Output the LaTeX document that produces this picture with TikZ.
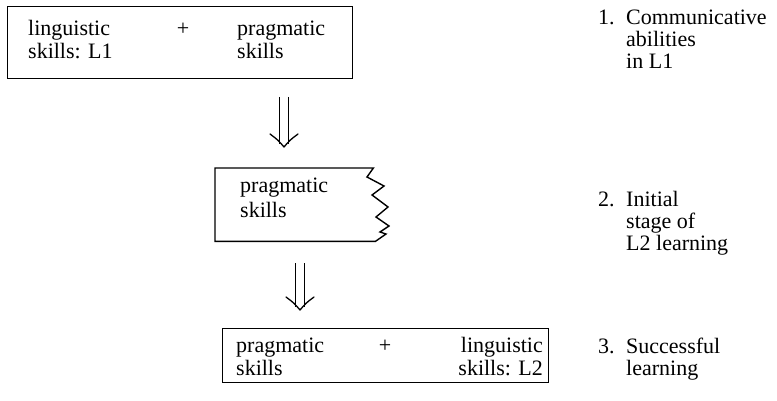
\documentclass[tikz,border=0pt]{standalone}
\usepackage{fontspec}
\setmainfont{Liberation Serif}
\newfontfamily\serifx{Liberation Serif}
\usetikzlibrary{calc}
\begin{document}
\begin{tikzpicture}[x=1pt,y=-1pt,
  txt/.style={inner sep=0pt, anchor=base west, font=\serifx\fontsize{22}{26}\selectfont},
  txtr/.style={txt, anchor=base east},
  txtc/.style={txt, anchor=base},
  boxline/.style={line width=1.4pt, line join=miter},
  frame/.style={boxline, draw, inner sep=0pt, anchor=north west},
  shaft/.style={line width=1.2pt},
  head/.style={line width=1.3pt, line cap=round, line join=round}]
\useasboundingbox (0,0) rectangle (777,401);

% box 1
\node[frame, minimum width=345pt, minimum height=72pt] (b1) at (7,6) {};
\node[txt] (b1a) at (28,36) {linguistic};
\node[txt] (b1b) at (28,59) {skills: L1};
\node[txtc] (b1p) at (183,36) {+};
\node[txt] (b1c) at (237,36) {pragmatic};
\node[txt] (b1d) at (237,59) {skills};

% box 2 (torn right edge)
\node[inner sep=0pt, anchor=north west, minimum width=158pt, minimum height=73pt] (b2) at (215,168) {};
\draw[boxline] (b2.north east) -- (b2.north west) -- (b2.south west) -- ($(b2.south east)+(2,0)$)
  -- (386,234) -- (380,232) -- (389,226) -- (376,217) -- (388,207) -- (372,195) -- (384,186) -- (367,177) -- cycle;
\node[txt] (b2a) at (240,193) {pragmatic};
\node[txt] (b2b) at (240,218) {skills};

% box 3
\node[frame, minimum width=326pt, minimum height=54pt] (b3) at (222,328) {};
\node[txt] (b3a) at (236,352) {pragmatic};
\node[txt] (b3b) at (236,375) {skills};
\node[txtc] (b3p) at (385,352) {+};
\node[txtr] (b3c) at (543,352) {linguistic};
\node[txtr] (b3d) at (543,375) {skills: L2};

% arrows
\coordinate (a1top) at (284,97);
\coordinate (a1tip) at (284,147);
\draw[shaft] ($(a1top)+(-4.5,0)$) -- ($(a1tip)+(-4.5,-3)$);
\draw[shaft] ($(a1top)+(4.5,0)$) -- ($(a1tip)+(4.5,-3)$);
\draw[head] ($(a1tip)+(-14,-13)$) .. controls ($(a1tip)+(-6,-7)$) .. (a1tip) .. controls ($(a1tip)+(6,-7)$) .. ($(a1tip)+(14,-13)$);

\coordinate (a2top) at (300,263);
\coordinate (a2tip) at (300,310);
\draw[shaft] ($(a2top)+(-4.5,0)$) -- ($(a2tip)+(-4.5,-3)$);
\draw[shaft] ($(a2top)+(4.5,0)$) -- ($(a2tip)+(4.5,-3)$);
\draw[head] ($(a2tip)+(-14,-13)$) .. controls ($(a2tip)+(-6,-7)$) .. (a2tip) .. controls ($(a2tip)+(6,-7)$) .. ($(a2tip)+(14,-13)$);

% right-hand labels
\node[txt] (n1) at (598,25) {1.};
\node[txt] (l1a) at (626,25) {Communicative};
\node[txt] (l1b) at (626,47) {abilities};
\node[txt] (l1c) at (626,69) {in L1};

\node[txt] (n2) at (598,207) {2.};
\node[txt] (l2a) at (626,207) {Initial};
\node[txt] (l2b) at (626,229) {stage of};
\node[txt] (l2c) at (626,251) {L2 learning};

\node[txt] (n3) at (598,353) {3.};
\node[txt] (l3a) at (626,353) {Successful};
\node[txt] (l3b) at (626,375) {learning};
\end{tikzpicture}
\end{document}
